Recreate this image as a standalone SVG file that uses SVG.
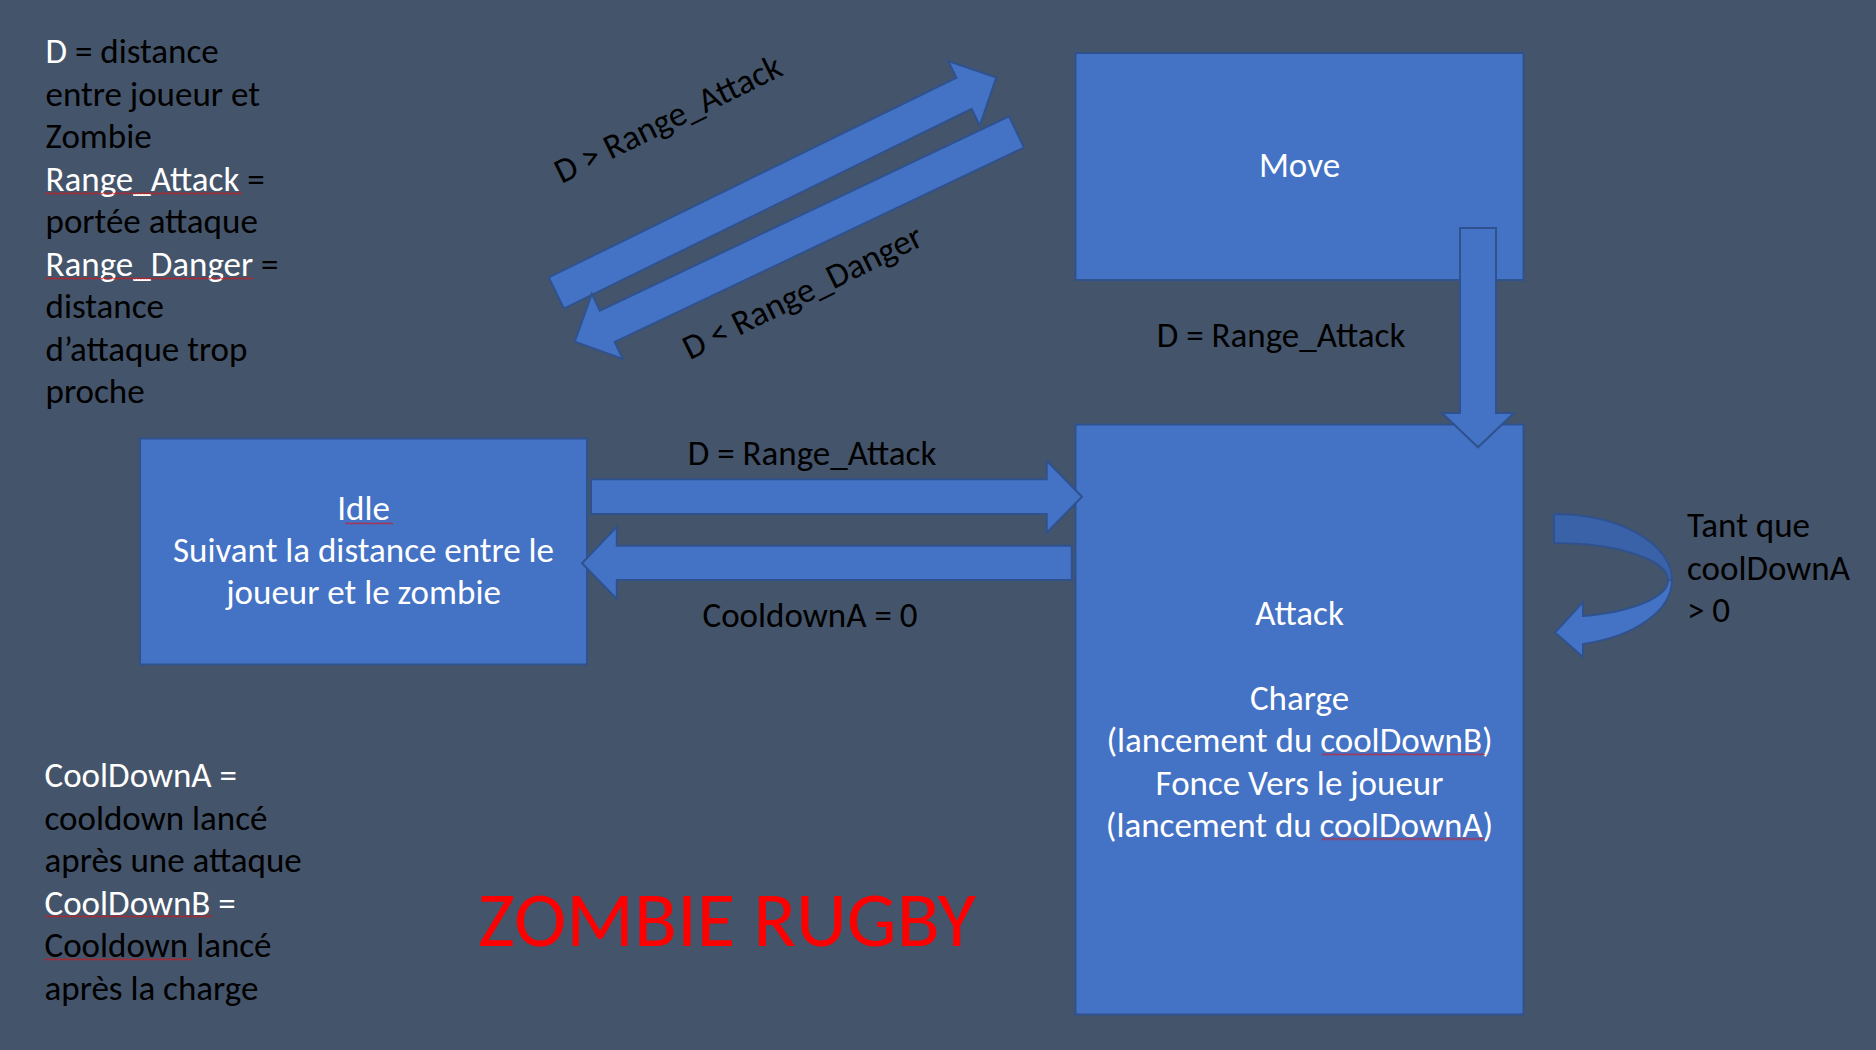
<svg xmlns="http://www.w3.org/2000/svg" width="1876" height="1050" viewBox="0 0 1876 1050">
  <defs>
    <style>
      .t { font-family: Carlito, Lato, "Liberation Sans", sans-serif; font-size: 35px; }
      .w { fill: #FFFFFF; }
      .k { fill: #000000; }
      .mid { text-anchor: middle; }
      .box { fill: #4472C4; stroke: #2F528F; stroke-width: 2; }
      .arrow { fill: #4472C4; stroke: #2F528F; stroke-width: 2; stroke-linejoin: miter; }
      .arrow-back { fill: #3A62A8; stroke: #2F528F; stroke-width: 2; }
      .title { font-family: Carlito, Lato, "Liberation Sans", sans-serif; font-size: 79px; fill: #FF0000; }
    </style>
    <!-- red spell-check wave under flagged words -->
    <pattern id="wave" width="3" height="3" patternUnits="userSpaceOnUse">
      <path d="M0,2.5 L1.5,0.5 L3,2.5" fill="none" stroke="#E01010" stroke-width="0.9"/>
    </pattern>
  </defs>

  <rect class="bg" x="0" y="0" width="1876" height="1050" fill="#44546A"/>

  <!-- legend, top left -->
  <g id="legend-distances" class="t">
    <text x="45.5" y="63"><tspan class="w">D</tspan><tspan class="k"> = distance</tspan></text>
    <text x="45.5" y="105.5" class="k">entre joueur et</text>
    <text x="45.5" y="148" class="k">Zombie</text>
    <text x="45.5" y="190.5"><tspan class="w">Range_Attack</tspan><tspan class="k"> =</tspan></text>
    <text x="45.5" y="233" class="k">portée attaque</text>
    <text x="45.5" y="275.5"><tspan class="w">Range_Danger</tspan><tspan class="k"> =</tspan></text>
    <text x="45.5" y="318" class="k">distance</text>
    <text x="45.5" y="360.5" class="k">d’attaque trop</text>
    <text x="45.5" y="403" class="k">proche</text>
    <g transform="translate(45,192)"><rect width="197" height="3" fill="url(#wave)"/></g>
    <g transform="translate(45,277)"><rect width="208" height="3" fill="url(#wave)"/></g>
  </g>

  <!-- legend, bottom left -->
  <g id="legend-cooldowns" class="t">
    <text x="44.5" y="787" class="w">CoolDownA =</text>
    <text x="44.5" y="829.5" class="k">cooldown lancé</text>
    <text x="44.5" y="872" class="k">après une attaque</text>
    <text x="44.5" y="914.5" class="w">CoolDownB =</text>
    <text x="44.5" y="957" class="k">Cooldown lancé</text>
    <text x="44.5" y="999.5" class="k">après la charge</text>
    <g transform="translate(45,915)"><rect width="167" height="3" fill="url(#wave)"/></g>
    <g transform="translate(45,958)"><rect width="147" height="3" fill="url(#wave)"/></g>
  </g>

  <text id="title" class="title" x="478" y="946">ZOMBIE RUGBY</text>

  <!-- states -->
  <g id="move">
    <rect class="box" x="1075.5" y="53" width="448" height="227"/>
    <text class="t w mid" x="1299.5" y="177">Move</text>
  </g>

  <g id="idle">
    <rect class="box" x="140" y="438.5" width="447" height="226"/>
    <text class="t w mid" x="363.5" y="520">Idle</text>
    <text class="t w mid" x="363.5" y="562">Suivant la distance entre le</text>
    <text class="t w mid" x="363.5" y="604">joueur et le zombie</text>
    <g transform="translate(345,522)"><rect width="48" height="3" fill="url(#wave)"/></g>
  </g>

  <g id="attack">
    <rect class="box" x="1075.5" y="424.5" width="448" height="590"/>
    <text class="t w mid" x="1299.5" y="624.5">Attack</text>
    <text class="t w mid" x="1299.5" y="709.5">Charge</text>
    <text class="t w mid" x="1299.5" y="752">(lancement du coolDownB)</text>
    <text class="t w mid" x="1299.5" y="794.5">Fonce Vers le joueur</text>
    <text class="t w mid" x="1299.5" y="837">(lancement du coolDownA)</text>
    <g transform="translate(1322,753)"><rect width="163" height="3" fill="url(#wave)"/></g>
    <g transform="translate(1322,837.5)"><rect width="163" height="3" fill="url(#wave)"/></g>
  </g>

  <!-- transitions -->
  <g id="connectors">
    <!-- Idle -> Move -->
    <path class="arrow" transform="translate(556.3,293) rotate(-26.1)"
          d="M0,-17.3 L454,-17.3 L454,-36 L490,0 L454,36 L454,17.3 L0,17.3 Z"/>
    <!-- Move -> Idle -->
    <path class="arrow" transform="translate(1016.5,132) rotate(154.6)"
          d="M0,-17.3 L453,-17.3 L453,-36 L489,0 L453,36 L453,17.3 L0,17.3 Z"/>
    <!-- Move -> Attack -->
    <path class="arrow" d="M1460,228 L1496,228 L1496,413 L1514,413 L1478,447.3 L1442,413 L1460,413 Z"/>
    <!-- Idle -> Attack -->
    <path class="arrow" d="M591,479.3 L1046.7,479.3 L1046.7,460.7 L1082,496.7 L1046.7,532.7 L1046.7,514 L591,514 Z"/>
    <!-- Attack -> Idle -->
    <path class="arrow" d="M1071.8,545.7 L616.8,545.7 L616.8,526.7 L582,563.3 L616.8,599 L616.8,580 L1071.8,580 Z"/>
    <!-- Attack self-loop -->
    <path class="arrow-back" d="M1554,514 A118,66 0 0 1 1672,580 L1668,580 A114,37 0 0 0 1554,543 Z"/>
    <path class="arrow" d="M1672,580 A118,66 0 0 1 1583,644 L1583,657 L1555,632.5 L1583,602 L1583,616 A114,37 0 0 0 1668,580 Z"/>

    <g class="t k">
      <text transform="translate(673,129.2) rotate(-26.1)" class="mid">D &gt; Range_Attack</text>
      <text transform="translate(807.4,302.2) rotate(-26.2)" class="mid">D &lt; Range_Danger</text>
      <text x="1281" y="346.5" class="mid">D = Range_Attack</text>
      <text x="812" y="465" class="mid">D = Range_Attack</text>
      <text x="810" y="627" class="mid">CooldownA = 0</text>
      <text x="1687" y="537">Tant que</text>
      <text x="1687" y="579.5">coolDownA</text>
      <text x="1687" y="622">&gt; 0</text>
    </g>
  </g>
</svg>
